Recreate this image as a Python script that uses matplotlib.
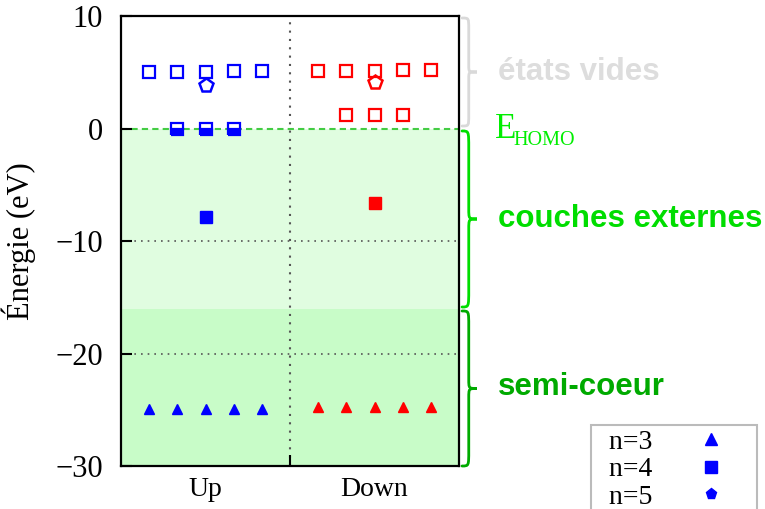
import matplotlib
matplotlib.use('Agg')
import matplotlib.pyplot as plt
from matplotlib.path import Path
from matplotlib.patches import PathPatch
from matplotlib.lines import Line2D

plt.rcParams['font.family'] = ['Liberation Serif', 'DejaVu Serif']

# positions des orbitales (Up : 1..5, Down : 7..11)
x_up = [1, 2, 3, 4, 5]
x_down = [7, 8, 9, 10, 11]

# Up
up_vides = [5.0, 5.05, 5.0, 5.1, 5.1]       # n=4, vides
up_n5_x, up_n5_y = [3], [3.9]               # n=5, vide
up_homo_x, up_homo_y = [2, 3, 4], [0.0, 0.0, 0.0]  # n=4, partiellement occupés
up_n4_x, up_n4_y = [3], [-7.9]              # n=4, occupé
up_n3 = [-24.9, -24.9, -24.9, -24.9, -24.9]  # n=3

# Down
down_vides = [5.15, 5.15, 5.1, 5.2, 5.2]
down_vides2_x, down_vides2_y = [8, 9, 10], [1.2, 1.2, 1.2]
down_n5_x, down_n5_y = [9], [4.1]
down_n4_x, down_n4_y = [9], [-6.65]
down_n3 = [-24.75, -24.75, -24.75, -24.75, -24.75]

e_homo = 0.0
e_semi = -16.0

W, H = 765, 509
fig = plt.figure(figsize=(W / 100, H / 100), dpi=100)
ax = fig.add_axes([121 / W, 1 - 466 / H, (459 - 121) / W, (466 - 16) / H])

ax.set_xlim(0, 12)
ax.set_ylim(-30, 10)

ax.axhspan(e_semi, e_homo, color='#e0fde0', zorder=0, lw=0)
ax.axhspan(-30, e_semi, color='#c8fcc8', zorder=0, lw=0)
ax.axhline(e_homo, color='#44cc44', ls=(0, (3, 2)), lw=1.5, zorder=1)
for yy in [-10, -20]:
    ax.axhline(yy, color='#555555', ls=(0, (1, 3)), lw=1.2, zorder=1)
ax.axvline(6, color='#555555', ls=(0, (1, 3)), lw=1.5, zorder=1)

ms = 9
# Up (bleu)
ax.plot(x_up, up_vides, 's', ms=ms, mfc='none', mec='blue', mew=1.6, zorder=3)
ax.plot(up_n5_x, up_n5_y, 'p', ms=10, mfc='none', mec='blue', mew=1.8, zorder=3)
ax.plot(up_homo_x, up_homo_y, 's', ms=ms, mfc='blue', mec='blue', mew=1.6,
        fillstyle='bottom', markerfacecoloralt='white', zorder=3)
ax.plot(up_n4_x, up_n4_y, 's', ms=ms, color='blue', zorder=3)
ax.plot(x_up, up_n3, '^', ms=7, color='blue', zorder=3)

# Down (rouge)
ax.plot(x_down, down_vides, 's', ms=ms, mfc='none', mec='red', mew=1.6, zorder=3)
ax.plot(down_vides2_x, down_vides2_y, 's', ms=ms, mfc='none', mec='red', mew=1.6, zorder=3)
ax.plot(down_n5_x, down_n5_y, 'p', ms=10, mfc='none', mec='red', mew=1.8, zorder=3)
ax.plot(down_n4_x, down_n4_y, 's', ms=ms, color='red', zorder=3)
ax.plot(x_down, down_n3, '^', ms=7, color='red', zorder=3)

ax.set_yticks([-30, -20, -10, 0, 10])
ax.set_yticklabels(['\u221230', '\u221220', '\u221210', '0', '10'])
ax.set_xticks([3, 9])
ax.set_xticklabels(['Up', 'Down'])
ax.set_xticks([6], minor=True)
ax.tick_params(axis='x', which='major', length=0, labelsize=20, pad=8)
ax.tick_params(axis='x', which='minor', direction='in', length=8, width=1.5)
ax.tick_params(axis='y', direction='in', length=8, width=1.5, labelsize=22, pad=13)
for s in ax.spines.values():
    s.set_linewidth(1.6)
ax.set_ylabel('Énergie (eV)', fontsize=22)
ax.yaxis.set_label_coords(-(121 - 36) / 338, 0.5)


def accolade(y_top, y_bot, color, x0=462, w=15):
    # accolade verticale en pixels de la figure
    def px(x, y):
        return (x / W, 1 - y / H)
    h = y_bot - y_top
    ym = (y_top + y_bot) / 2
    xm = x0 + w * 0.45
    verts = [px(x0, y_top),
             px(xm, y_top), px(xm, y_top), px(xm, y_top + 0.1 * h),
             px(xm, ym - 0.06 * h),
             px(xm, ym), px(xm, ym), px(x0 + w, ym),
             px(xm, ym), px(xm, ym), px(xm, ym + 0.06 * h),
             px(xm, y_bot - 0.1 * h),
             px(xm, y_bot), px(xm, y_bot), px(x0, y_bot)]
    codes = [Path.MOVETO,
             Path.CURVE4, Path.CURVE4, Path.CURVE4,
             Path.LINETO,
             Path.CURVE4, Path.CURVE4, Path.CURVE4,
             Path.CURVE4, Path.CURVE4, Path.CURVE4,
             Path.LINETO,
             Path.CURVE4, Path.CURVE4, Path.CURVE4]
    fig.patches.append(PathPatch(Path(verts, codes), transform=fig.transFigure,
                                 fill=False, ec=color, lw=2, capstyle='round'))


accolade(18, 126, '#d9d9d9')
accolade(131, 307, '#00dd00')
accolade(311, 466, '#00aa00')

tr = ax.get_yaxis_transform()
xt = (498 - 121) / 338
sans = ['Liberation Sans', 'DejaVu Sans']
ax.text(xt, 5.0, 'états vides', transform=tr, family=sans, fontweight='bold',
        fontsize=22.5, color='#dddddd', va='center', ha='left', clip_on=False)
# E_HOMO : grand E suivi de l'indice
ax.text((495 - 121) / 338, -0.85, 'E', transform=tr, fontsize=25, color='#00ee00',
        va='baseline', ha='left', clip_on=False)
ax.text((513 - 121) / 338, -1.45, 'HOMO', transform=tr, fontsize=14.5, color='#00ee00',
        va='baseline', ha='left', clip_on=False)
ax.text(xt, -8.0, 'couches externes', transform=tr, family=sans, fontweight='bold',
        fontsize=22.5, color='#00dd00', va='center', ha='left', clip_on=False)
ax.text(xt, -23.0, 'semi-coeur', transform=tr, family=sans, fontweight='bold',
        fontsize=22.5, color='#00aa00', va='center', ha='left', clip_on=False)

handles = [Line2D([], [], ls='none', marker='^', ms=8, color='blue'),
           Line2D([], [], ls='none', marker='s', ms=8, color='blue'),
           Line2D([], [], ls='none', marker='p', ms=8, color='blue')]
leg = fig.legend(handles, ['  n=3', '  n=4', '  n=5'], loc='upper left',
                 bbox_to_anchor=(591 / W, 1 - 425 / H), markerfirst=False,
                 fontsize=20, frameon=True, fancybox=False, framealpha=1,
                 edgecolor='#bbbbbb', labelspacing=0.08, handletextpad=0.6,
                 borderpad=0.15, borderaxespad=0, handlelength=3.0)
leg.get_frame().set_linewidth(1.5)

fig.savefig('out.png', dpi=100)
